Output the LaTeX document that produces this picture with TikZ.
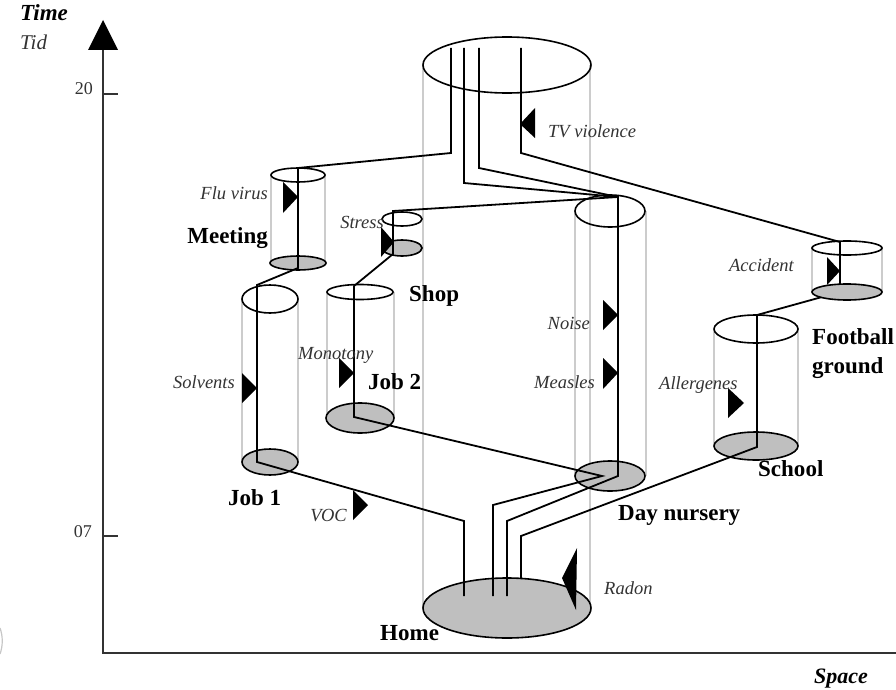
\documentclass[tikz,border=0pt]{standalone}
\usepackage{fontspec}
\setmainfont{Liberation Serif}
\begin{document}
\begin{tikzpicture}[x=1pt,y=-1pt,
  track/.style={black, line width=1.8pt, line join=miter},
  side/.style={gray!40, line width=1.3pt},
  rim/.style={black, line width=1.6pt},
  floor/.style={rim, fill=gray!50},
  axisline/.style={black!80, line width=2.2pt},
  hazard/.style={fill=black},
  lab/.style={inner sep=0pt, text=black!80, font=\fontsize{18.5}{20}\selectfont\itshape},
  place/.style={inner sep=0pt, font=\fontsize{23}{25}\selectfont\bfseries},
  ticklab/.style={inner sep=0pt, text=black!80, font=\fontsize{18}{20}\selectfont},
]
\useasboundingbox (0,0) rectangle (896,690);

% ---------- axes ----------
\draw[axisline] (103,50) -- (103,653) -- (896,653);
\fill[black] (103,20) -- (88,50) -- (118,50) -- cycle;
\draw[axisline] (103,94) -- (118,94);
\draw[axisline] (103,536) -- (118,536);
\node[ticklab, anchor=base east] (t20) at (93,95) {20};
\node[ticklab, anchor=base east] (t07) at (92,537) {07};
\node[inner sep=0pt, anchor=base west, font=\fontsize{23}{25}\selectfont\bfseries\itshape] (time) at (20,21) {Time};
\node[inner sep=0pt, anchor=base west, text=black!80, font=\fontsize{21}{23}\selectfont\itshape] (tid) at (20,50) {Tid};
\node[inner sep=0pt, anchor=base east, font=\fontsize{22}{24}\selectfont\bfseries\itshape] (space) at (868,683) {Space};
\draw[gray!45, line width=1.2pt] (0,628) .. controls (3,636) and (3,646) .. (0,654);

% ---------- cylinder side lines ----------
\draw[side] (423,65) -- (423,608);  \draw[side] (590,65) -- (590,608);   % home
\draw[side] (271,175) -- (271,263); \draw[side] (325,175) -- (325,263);  % meeting
\draw[side] (242,299) -- (242,462); \draw[side] (298,299) -- (298,462);  % job 1
\draw[side] (327,292) -- (327,418); \draw[side] (394,292) -- (394,418);  % job 2
\draw[side] (575,211) -- (575,476); \draw[side] (646,211) -- (646,476);  % day nursery
\draw[side] (714,329) -- (714,446); \draw[side] (798,329) -- (798,446);  % school
\draw[side] (812,248) -- (812,292); \draw[side] (882,248) -- (882,292);  % football

% ---------- bottom ellipses ----------
\draw[floor] (507,608) ellipse [x radius=84pt, y radius=30pt];
\draw[floor] (298,263) ellipse [x radius=28pt, y radius=7pt];
\draw[floor] (402,248) ellipse [x radius=20pt, y radius=8pt];
\draw[floor] (270,462) ellipse [x radius=28pt, y radius=13pt];
\draw[floor] (360,418) ellipse [x radius=34pt, y radius=15pt];
\draw[floor] (610,476) ellipse [x radius=35pt, y radius=15pt];
\draw[floor] (756,446) ellipse [x radius=42pt, y radius=14pt];

% ---------- top ellipses ----------
\draw[rim] (507,65) ellipse [x radius=84pt, y radius=28pt];
\draw[rim] (298,175) ellipse [x radius=27pt, y radius=7pt];
\draw[rim] (402,219) ellipse [x radius=20pt, y radius=7pt];
\draw[rim] (270,299) ellipse [x radius=28pt, y radius=14pt];
\draw[rim] (360,292) ellipse [x radius=33pt, y radius=7.5pt];
\draw[rim] (610,211) ellipse [x radius=35pt, y radius=16pt];
\draw[rim] (756,329) ellipse [x radius=42pt, y radius=14pt];
\draw[rim] (847,248) ellipse [x radius=35pt, y radius=7pt];

% ---------- time-space paths ----------
\coordinate (nurtop) at (618,197);
\draw[track] (451,48) -- (451,153) -- (298,168) -- (298,268) -- (257,285)
  -- (257,462) -- (464,521) -- (464,596);
\draw[track] (464,48) -- (464,183) -- (nurtop) -- (393,211) -- (393,254)
  -- (354,286) -- (354,417) -- (602,476) -- (493,505) -- (493,596);
\draw[track] (479,48) -- (479,168) -- (nurtop) -- (618,476) -- (507,521) -- (507,596);
\draw[track] (521,48) -- (521,153) -- (840,242) -- (840,292) -- (757,315)
  -- (757,447) -- (521,536) -- (521,579);
\draw[floor] (847,292) ellipse [x radius=35pt, y radius=8pt];

% ---------- hazards ----------
\fill[hazard] (535,108) -- (535,138) -- (520,124) -- cycle;   % TV
\fill[hazard] (283,182) -- (283,213) -- (298,197) -- cycle;   % flu
\fill[hazard] (381,227) -- (381,257) -- (394,242) -- cycle;   % stress
\fill[hazard] (339,358) -- (339,388) -- (354,373) -- cycle;   % monotony
\fill[hazard] (242,373) -- (242,403) -- (257,388) -- cycle;   % solvents
\fill[hazard] (603,300) -- (603,330) -- (618,315) -- cycle;   % noise
\fill[hazard] (603,358) -- (603,389) -- (618,373) -- cycle;   % measles
\fill[hazard] (827,257) -- (827,285) -- (840,271) -- cycle;   % accident
\fill[hazard] (728,388) -- (728,418) -- (744,403) -- cycle;   % allergenes
\fill[hazard] (353,490) -- (353,520) -- (368,505) -- cycle;   % VOC
\fill[hazard] (577,548) -- (576,610) -- (562,578) -- cycle;   % radon

% ---------- hazard labels ----------
\node[lab, anchor=base west] (ltv) at (548,137) {TV violence};
\node[lab, anchor=base east] (lflu) at (268,199) {Flu virus};
\node[lab, anchor=base east] (lstress) at (384,228) {Stress};
\node[lab, anchor=base east] (lacc) at (794,271) {Accident};
\node[lab, anchor=base east] (lnoise) at (590,329) {Noise};
\node[lab, anchor=base west] (lmono) at (298,359) {Monotony};
\node[lab, anchor=base east] (lsolv) at (235,388) {Solvents};
\node[lab, anchor=base east] (lmeas) at (595,388) {Measles};
\node[lab, anchor=base west] (lall) at (659,389) {Allergenes};
\node[lab, anchor=base east] (lvoc) at (347,521) {VOC};
\node[lab, anchor=base west] (lradon) at (604,594) {Radon};

% ---------- place labels ----------
\node[place, anchor=base east] (meeting) at (268,243) {Meeting};
\node[place, anchor=base west] (shop) at (409,301) {Shop};
\node[place, anchor=base west] (job2) at (368,389) {Job 2};
\node[place, anchor=base west] (football) at (812,344) {Football};
\node[place, anchor=base west] (ground) at (812,373) {ground};
\node[place, anchor=base west] (school) at (758,476) {School};
\node[place, anchor=base west] (job1) at (228,505) {Job 1};
\node[place, anchor=base west] (nursery) at (618,520) {Day nursery};
\node[place, anchor=base west] (home) at (380,640) {Home};
\end{tikzpicture}
\end{document}
